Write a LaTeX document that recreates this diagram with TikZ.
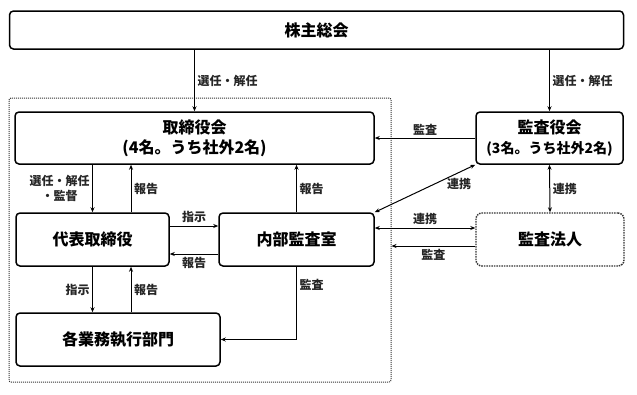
\documentclass[tikz,border=0pt]{standalone}
\usepackage{fontspec}
\setmainfont{Noto Sans CJK JP}
\usetikzlibrary{arrows.meta,positioning}

\tikzset{
  box/.style={draw, line width=1.5pt, rounded corners=4pt, align=center, inner sep=0pt,
    font=\bfseries\fontsize{16}{20}\selectfont},
  outsidebox/.style={box, draw=black!80, densely dotted, line width=1.4pt, rounded corners=6pt},
  frame/.style={draw=black!80, densely dotted, line width=1pt, rounded corners=2pt,
    minimum width=382, minimum height=284, inner sep=0pt},
  lbl/.style={font=\bfseries\fontsize{12}{15}\selectfont, inner sep=2.5pt, text=black!85},
}

\begin{document}
\begin{tikzpicture}[x=1pt,y=-1pt,>={Stealth[length=5pt,width=4pt]},line width=1pt]
  \useasboundingbox (0,0) rectangle (637,394);

  % company frame
  \node[frame] (frame) at (200,240) {};

  % boxes
  \node[box, minimum width=614, minimum height=38] (soukai) at (316.5,30) {株主総会};
  \node[box, minimum width=359, minimum height=52] (torishimari) at (194.5,138) {取締役会\\(4名。うち社外2名)};
  \node[box, minimum width=147, minimum height=52] (kansayaku) at (549.5,138) {監査役会\\{\fontsize{14}{20}\selectfont(3名。うち社外2名)}};
  \node[box, minimum width=153, minimum height=53] (daihyo) at (92.5,239.5) {代表取締役};
  \node[box, minimum width=155, minimum height=53] (naibu) at (296.5,239.5) {内部監査室};
  \node[box, minimum width=204, minimum height=53] (gyomu) at (118,339.5) {各業務執行部門};
  \node[outsidebox, minimum width=148, minimum height=53] (hojin) at (550,239.5) {監査法人};

  % shareholders
  \draw[->] (soukai.south -| torishimari.north) -- node[lbl, right, pos=.5] {選任・解任} (torishimari.north);
  \draw[->] (soukai.south -| kansayaku.north) -- node[lbl, right, pos=.5] {選任・解任} (kansayaku.north);

  % board and representative director
  \draw[->] (torishimari.south -| daihyo.north) -- node[lbl, left, align=center] {選任・解任\\・監督} (daihyo.north);
  \draw[->] ([xshift=38.5pt]daihyo.north) -- node[lbl, right] {報告} ([xshift=38.5pt]daihyo.north |- torishimari.south);
  \draw[->] (naibu.north) -- node[lbl, right] {報告} (naibu.north |- torishimari.south);
  \draw[->] ([yshift=13.5pt]daihyo.east) -- node[lbl, above] {指示} ([yshift=13.5pt]daihyo.east -| naibu.west);
  \draw[->] ([yshift=-14.5pt]naibu.west) -- node[lbl, below] {報告} ([yshift=-14.5pt]naibu.west -| daihyo.east);

  % business divisions
  \draw[->] (daihyo.south) -- node[lbl, left] {指示} (daihyo.south |- gyomu.north);
  \draw[->] ([xshift=38.5pt]daihyo.south |- gyomu.north) -- node[lbl, right] {報告} ([xshift=38.5pt]daihyo.south);
  \draw[->] (naibu.south) -- node[lbl, right, pos=.25] {監査} (naibu.south |- gyomu.east) -- (gyomu.east);

  % auditors
  \draw[->] (kansayaku.west) -- node[lbl, above] {監査} (kansayaku.west -| torishimari.east);
  \draw[<->] (kansayaku.south west) -- node[lbl, pos=.4, right=9pt] {連携} (naibu.north east);
  \draw[<->] (kansayaku.south) -- node[lbl, right] {連携} (hojin.north);
  \draw[<->] ([yshift=11.5pt]naibu.east) -- node[lbl, above] {連携} ([yshift=11.5pt]naibu.east -| hojin.west);
  \draw[->] ([yshift=-6.5pt]hojin.west) -- node[lbl, below] {監査} ([yshift=-6.5pt]hojin.west -| frame.east);
\end{tikzpicture}
\end{document}
